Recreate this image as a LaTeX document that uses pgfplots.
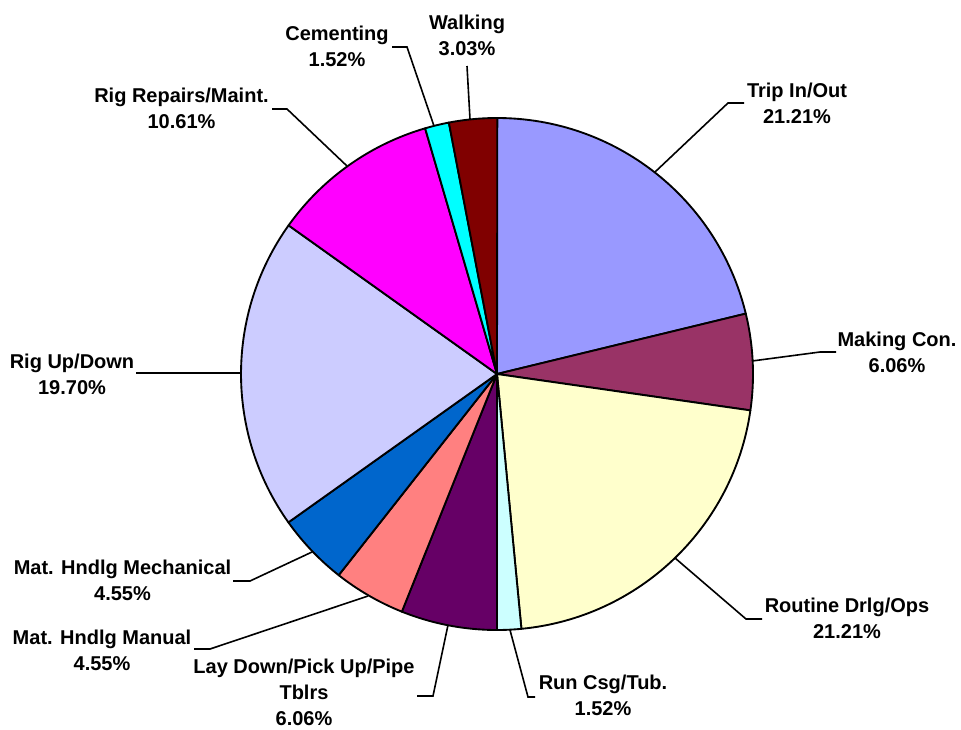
\documentclass[border=0pt]{standalone}
\usepackage{pgfplots}
\pgfplotsset{compat=1.18}
\usepackage{fontspec}
\setmainfont{Liberation Sans}

\definecolor{cTrip}{HTML}{9999FF}
\definecolor{cMaking}{HTML}{993366}
\definecolor{cRoutine}{HTML}{FFFFCC}
\definecolor{cRunCsg}{HTML}{CCFFFF}
\definecolor{cLayDown}{HTML}{660066}
\definecolor{cManual}{HTML}{FF8080}
\definecolor{cMech}{HTML}{0066CC}
\definecolor{cRigUp}{HTML}{CCCCFF}
\definecolor{cRepairs}{HTML}{FF00FF}
\definecolor{cCement}{HTML}{00FFFF}
\definecolor{cWalking}{HTML}{800000}

\tikzset{
    lbl/.style={font=\bfseries\fontsize{15}{19.5}\selectfont, align=center},
    ldr/.style={line width=1.2pt, black},
}

\begin{document}
\begin{tikzpicture}
\begin{axis}[
    hide axis,
    x=0.75pt, y=0.75pt,
    y dir=reverse,
    xmin=0, xmax=961, ymin=0, ymax=729,
    clip=false,
]
\coordinate (bl) at (axis cs:0,729);
\coordinate (tr) at (axis cs:961,0);

% slices, clockwise from 12 o'clock (percent / colour)
\pgfplotsextra{
\def\startang{90}
\foreach \pct/\col in {21.21/cTrip, 6.06/cMaking, 21.21/cRoutine, 1.52/cRunCsg,
                   6.06/cLayDown, 4.55/cManual, 4.55/cMech, 19.70/cRigUp,
                   10.61/cRepairs, 1.52/cCement, 3.03/cWalking}{
    \pgfmathsetmacro\endang{\startang-3.6*\pct}
    \filldraw[fill=\col, draw=black, line width=1.4pt, line join=round]
        (axis cs:497,374) -- ++(\startang:192pt)
        arc[start angle=\startang, end angle=\endang, radius=192pt] -- cycle;
    \xdef\startang{\endang}
}
}

% leader lines
\draw[ldr] (axis cs:655,172) -- (axis cs:728,103) -- (axis cs:744,103);
\draw[ldr] (axis cs:752,361) -- (axis cs:820,352) -- (axis cs:836,352);
\draw[ldr] (axis cs:675,558) -- (axis cs:746,619) -- (axis cs:762,619);
\draw[ldr] (axis cs:510,630) -- (axis cs:528,697) -- (axis cs:535,697);
\draw[ldr] (axis cs:448,625) -- (axis cs:433,696) -- (axis cs:417,696);
\draw[ldr] (axis cs:312,552) -- (axis cs:250,581) -- (axis cs:233,581);
\draw[ldr] (axis cs:368,596) -- (axis cs:210,649) -- (axis cs:194,649);
\draw[ldr] (axis cs:241,373) -- (axis cs:136,373);
\draw[ldr] (axis cs:347,166) -- (axis cs:287,109) -- (axis cs:272,109);
\draw[ldr] (axis cs:434,126) -- (axis cs:407,47) -- (axis cs:392,47);
\draw[ldr] (axis cs:470,119) -- (axis cs:467,66);

% labels
\node[lbl] at (axis cs:797,103) {Trip In/Out\\21.21\%};
\node[lbl] at (axis cs:897,352.5) {Making Con.\\6.06\%};
\node[lbl] at (axis cs:847,618.5) {Routine Drlg/Ops\\21.21\%};
\node[lbl] at (axis cs:603,695) {Run Csg/Tub.\\1.52\%};
\node[lbl] at (axis cs:304,692.5) {Lay Down/Pick Up/Pipe\\Tblrs\\6.06\%};
\node[lbl] at (axis cs:122.5,580.5) {Mat. Hndlg Mechanical\\4.55\%};
\node[lbl] at (axis cs:102,650) {Mat. Hndlg Manual\\4.55\%};
\node[lbl] at (axis cs:72,374.5) {Rig Up/Down\\19.70\%};
\node[lbl] at (axis cs:181.5,108) {Rig Repairs/Maint.\\10.61\%};
\node[lbl] at (axis cs:337,46.5) {Cementing\\1.52\%};
\node[lbl] at (axis cs:467,35.5) {Walking\\3.03\%};
\end{axis}
\pgfresetboundingbox
\useasboundingbox (bl) rectangle (tr);
\end{tikzpicture}
\end{document}
